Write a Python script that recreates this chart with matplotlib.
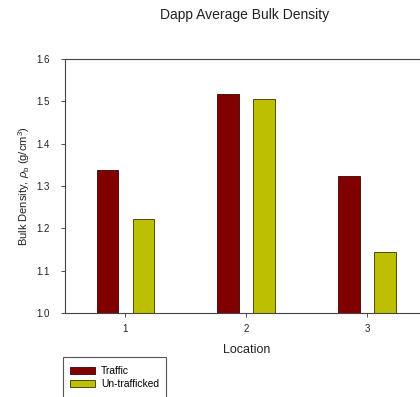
import numpy as np
import matplotlib.pyplot as plt
from matplotlib.patches import Rectangle

plt.rcParams['font.family'] = ['Liberation Sans', 'DejaVu Sans']
plt.rcParams['mathtext.fontset'] = 'custom'
plt.rcParams['mathtext.rm'] = 'Liberation Sans'
plt.rcParams['mathtext.it'] = 'Liberation Sans:italic'

locations = [1, 2, 3]
traffic = [1.338, 1.518, 1.323]
untrafficked = [1.222, 1.505, 1.145]
series_names = ['Traffic', 'Un-trafficked']


def plot_density():
    fig = plt.figure(figsize=(4.2, 3.97), dpi=100)
    # axes run slightly past the right border of the figure
    ax = fig.add_axes([65 / 420, 1 - 313 / 397, 362.5 / 420, 254 / 397])

    x = np.array(locations, dtype=float)
    width = 0.18
    offset = 0.149
    b1 = ax.bar(x - offset, traffic, width, color='#800000', edgecolor='#3a0000', linewidth=0.6, label=series_names[0])
    b2 = ax.bar(x + offset, untrafficked, width, color='#bcc000', edgecolor='#333300', linewidth=0.6, label=series_names[1])

    ax.set_xlim(0.5, 3.5)
    ax.set_ylim(1.0, 1.6)
    ax.set_xticks(locations)
    ax.set_yticks(np.arange(1.0, 1.61, 0.1))
    ax.yaxis.set_major_formatter(plt.FormatStrFormatter('%.1f'))
    ax.tick_params(axis='both', labelsize=7, length=3, width=0.6, color='#333333', labelcolor='#222222')
    ax.tick_params(axis='y', pad=8)
    ax.tick_params(axis='x', pad=5)
    for s in ax.spines.values():
        s.set_linewidth(0.8)
        s.set_color('#444444')

    ax.set_xlabel('Location', fontsize=9, color='#222222', labelpad=7)
    ax.set_ylabel(r'Bulk Density, $\rho_\mathrm{b}$ (g/cm$^3$)', fontsize=8, color='#222222', labelpad=3)
    fig.text(245 / 420, 1 - 15 / 397, 'Dapp Average Bulk Density', ha='center', va='center', fontsize=10, color='#222222')

    leg = fig.legend(handles=[b1, b2], loc='upper left', bbox_to_anchor=(65 / 420, 1 - 361 / 397),
                     fontsize=7.4, frameon=False, handlelength=2.4, handleheight=0.7,
                     handletextpad=0.6, labelspacing=0.3, borderpad=0.5, borderaxespad=0)
    # legend box, open at the bottom edge of the figure
    fig.patches.append(Rectangle((63.5 / 420, -0.02), 102 / 420, 0.02 + 40 / 397, transform=fig.transFigure,
                                 fill=False, edgecolor='#555555', linewidth=0.8))

    fig.savefig('out.png', dpi=100)


if __name__ == '__main__':
    plot_density()
